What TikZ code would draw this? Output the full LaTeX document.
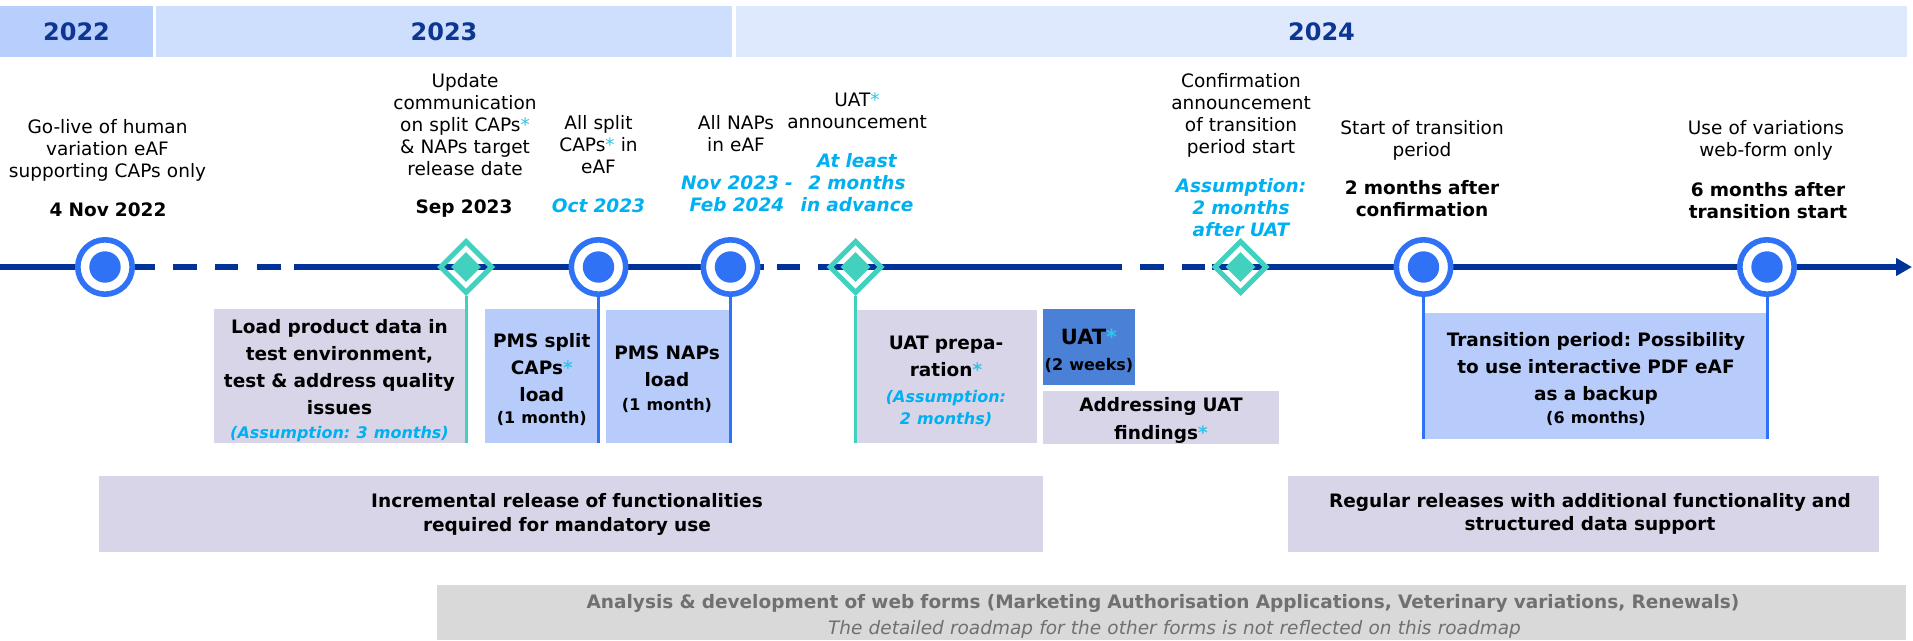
\documentclass[tikz,border=0pt]{standalone}
\usepackage{fontspec}
\setmainfont{DejaVu Sans}
\usetikzlibrary{shapes.geometric,arrows.meta}
\definecolor{navy}{HTML}{003399}
\definecolor{yeartxt}{HTML}{0D3592}
\definecolor{yA}{HTML}{B8CEFC}
\definecolor{yB}{HTML}{CEDEFD}
\definecolor{yC}{HTML}{DEE9FE}
\definecolor{msblue}{HTML}{3072F6}
\definecolor{msteal}{HTML}{43D1BF}
\definecolor{cyantxt}{HTML}{00B0F0}
\definecolor{star}{HTML}{30C5EA}
\definecolor{lav}{HTML}{D9D5E8}
\definecolor{lblue}{HTML}{B8CCFB}
\definecolor{uatblue}{HTML}{4A80D5}
\definecolor{greybox}{HTML}{D9D9D9}
\definecolor{greytxt}{HTML}{707070}
\newcommand{\cstar}{\textcolor{star}{*}}
\newcommand{\smallfs}{\fontsize{16}{20}\selectfont}
\frenchspacing
\tikzset{
  yr/.style={inner sep=0pt, text=yeartxt, font=\fontsize{24}{28}\selectfont\bfseries, minimum height=51pt},
  tl/.style={draw=navy, line width=5.5pt},
  mscirc/.style={circle, draw=msblue, line width=5.6pt, fill=white, minimum size=54.4pt, inner sep=0pt},
  msdiam/.style={diamond, aspect=1, draw=msteal, line width=5pt, minimum size=53pt, inner sep=0pt},
  msdiamin/.style={diamond, aspect=1, fill=msteal, minimum size=30pt, inner sep=0pt},
  stemb/.style={draw=msblue, line width=3pt},
  stemt/.style={draw=msteal, line width=3pt},
  mtext/.style={anchor=base, inner sep=0pt, text width=320pt, align=center, font=\fontsize{18.5}{22}\selectfont\frenchspacing},
  mdate/.style={mtext, font=\fontsize{18.5}{22}\selectfont\bfseries\frenchspacing},
  mcyan/.style={mtext, text=cyantxt, font=\fontsize{18.5}{22}\selectfont\bfseries\itshape\frenchspacing},
  boxn/.style={inner sep=0pt, draw=none},
  btext/.style={anchor=base, inner sep=0pt, text width=700pt, align=center, font=\fontsize{18.5}{27}\selectfont\bfseries\frenchspacing},
}
\begin{document}
\begin{tikzpicture}[x=1pt,y=-1pt]
\useasboundingbox (0,0) rectangle (1913,640);
% year header
\node[yr, fill=yA, minimum width=153pt] (yr22) at (76.5,31.5) {2022};
\node[yr, fill=yB, minimum width=576pt] (yr23) at (444,31.5) {2023};
\node[yr, fill=yC, minimum width=1171pt] (yr24) at (1321.5,31.5) {2024};
% timeline
\draw[tl] (0,267) -- (155,267) (173,267) -- (197,267) (215,267) -- (238,267)
  (257,267) -- (281,267) (294,267) -- (764,267) (777,267) -- (800,267)
  (818,267) -- (1122,267) (1140,267) -- (1164,267) (1182,267) -- (1205,267);
\draw[tl, -{Triangle[length=16pt,width=17pt]}] (1212,267) -- (1912,267);
% boxes
\node[boxn, fill=lav, minimum width=252pt, minimum height=134pt] (b1) at (340,376) {};
\node[boxn, fill=lblue, minimum width=113.5pt, minimum height=134pt] (b2) at (541.75,376) {};
\node[boxn, fill=lblue, minimum width=124.5pt, minimum height=133pt] (b3) at (668.25,376.5) {};
\node[boxn, fill=lav, minimum width=181.5pt, minimum height=133pt] (b4) at (946.25,376.5) {};
\node[boxn, fill=uatblue, minimum width=92pt, minimum height=76pt] (b5) at (1089,347) {};
\node[boxn, fill=lav, minimum width=236pt, minimum height=53pt] (b6) at (1161,417.5) {};
\node[boxn, fill=lblue, minimum width=343.5pt, minimum height=126pt] (b7) at (1595.25,376) {};
\node[boxn, fill=lav, minimum width=944pt, minimum height=76pt] (b8) at (571,514) {};
\node[boxn, fill=lav, minimum width=591pt, minimum height=76pt] (b9) at (1583.5,514) {};
\node[boxn, fill=greybox, minimum width=1469pt, minimum height=55pt] (b10) at (1171.5,612.5) {};
% milestones
\node[mscirc] (m1) at (105,267) {};
\node[msdiam] (m2) at (466,267) {};
\node[msdiamin] (m2i) at (m2) {};
\node[mscirc] (m3) at (598.5,267) {};
\node[mscirc] (m4) at (730.5,267) {};
\node[msdiam] (m5) at (855.5,267) {};
\node[msdiamin] (m5i) at (m5) {};
\node[msdiam] (m6) at (1240.5,267) {};
\node[msdiamin] (m6i) at (m6) {};
\node[mscirc] (m7) at (1423.5,267) {};
\node[mscirc] (m8) at (1767,267) {};
\foreach \m in {m1,m3,m4,m7,m8} \fill[msblue] (\m.center) circle[radius=15.7];
% stems
\draw[stemt] (m2.south) -- (m2.south |- b1.south);
\draw[stemb] (m3.south) -- (m3.south |- b2.south);
\draw[stemb] (m4.south) -- (m4.south |- b3.south);
\draw[stemt] (m5.south) -- (m5.south |- b4.south);
\draw[stemb] (m7.south) -- (m7.south |- b7.south);
\draw[stemb] (m8.south) -- (m8.south |- b7.south);
% milestone labels
\node[mtext] (t1) at (107.5,133.5) {Go-live of human\\variation eAF\\supporting CAPs only};
\node[mdate] (d1) at (108,216.5) {4 Nov 2022};
\node[mtext] (t2) at (465,87.5) {Update\\communication\\on split CAPs\cstar\\\& NAPs target\\release date};
\node[mdate] (d2) at (464,213.5) {Sep 2023};
\node[mtext] (t3) at (598.5,129.5) {All split\\CAPs\cstar{} in\\eAF};
\node[mcyan] (d3) at (598.5,212.5) {Oct 2023};
\node[mtext] (t4) at (736,129.5) {All NAPs\\in eAF};
\node[mcyan] (d4) at (737,189.5) {Nov 2023 -\\Feb 2024};
\node[mtext] (t5) at (857,106.5) {UAT\cstar\\announcement};
\node[mcyan] (d5) at (857,167.5) {At least\\2 months\\in advance};
\node[mtext] (t6) at (1241,87.5) {Confirmation\\announcement\\of transition\\period start};
\node[mcyan] (d6) at (1241,192.5) {Assumption:\\2 months\\after UAT};
\node[mtext] (t7) at (1422,134.5) {Start of transition\\period};
\node[mdate] (d7) at (1422,194.5) {2 months after\\confirmation};
\node[mtext] (t8) at (1766,134.5) {Use of variations\\web-form only};
\node[mdate] (d8) at (1768,196.5) {6 months after\\transition start};
% box texts
\node[btext] (b1t) at (339.5,333.5) {Load product data in\\test environment,\\test \& address quality\\issues\\[-3.3pt]{\smallfs\itshape\color{cyantxt}(Assumption: 3 months)}};
\node[btext] (b2t) at (541.8,347.2) {PMS split\\CAPs\cstar\\load\\[-4.4pt]{\smallfs (1 month)}};
\node[btext] (b3t) at (667,359.8) {PMS NAPs\\load\\[-3.3pt]{\smallfs (1 month)}};
\node[btext] (b4t) at (946,349.8) {UAT prepa-\\ration\cstar\\[-1pt]{\smallfs\itshape\color{cyantxt}(Assumption:}\\[-5pt]{\smallfs\itshape\color{cyantxt}2 months)}};
\node[btext] (b5t) at (1089,344.3) {{\fontsize{21}{27}\selectfont UAT\cstar}\\[-0.8pt]{\smallfs (2 weeks)}};
\node[btext] (b6t) at (1161,411.5) {Addressing UAT\\[1.3pt]findings\cstar};
\node[btext] (b7t) at (1596,346.5) {Transition period: Possibility\\to use interactive PDF eAF\\as a backup\\[-3.7pt]{\smallfs (6 months)}};
\node[btext] (b8t) at (567,507.5) {Incremental release of functionalities\\[-3pt]required for mandatory use};
\node[btext] (b9t) at (1590,507.5) {Regular releases with additional functionality and\\[-4.5pt]structured data support};
\node[btext, text=greytxt, text width=1400pt] (b10a) at (1163,608.3) {Analysis \& development of web forms (Marketing Authorisation Applications, Veterinary variations, Renewals)};
\node[btext, text=greytxt, text width=1400pt, font=\fontsize{18.5}{27}\selectfont\itshape\frenchspacing] (b10b) at (1174.5,634) {The detailed roadmap for the other forms is not reflected on this roadmap};
\end{tikzpicture}
\end{document}
